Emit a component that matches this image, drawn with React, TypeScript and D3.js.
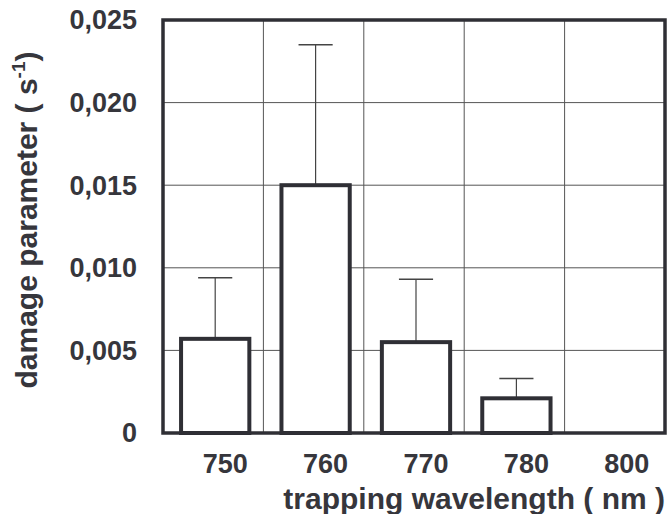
import React from "react";
import * as d3 from "d3";

const categories = ["750", "760", "770", "780", "800"];
const values = [0.0057, 0.015, 0.0055, 0.0021, 0];
const errors = [0.0037, 0.0085, 0.0038, 0.0012, 0];
const yTicks = [0, 0.005, 0.01, 0.015, 0.02, 0.025];
const xTitle = "trapping wavelength ( nm )";

const W = 668;
const H = 514;
const m = { left: 163, right: 3, top: 20, bottom: 81 };

export default function App() {
  const x = d3
    .scaleBand<string>()
    .domain(categories)
    .range([m.left, W - m.right])
    .paddingInner(0)
    .paddingOuter(0);
  const y = d3.scaleLinear().domain([0, 0.025]).range([H - m.bottom, m.top]);
  const locale = d3.formatLocale({ decimal: ",", thousands: ".", grouping: [3], currency: ["", ""] });
  const fmt = (v: number) => (v === 0 ? "0" : locale.format(".3f")(v));
  const bw = x.bandwidth() * 0.68;
  const capW = bw * 0.5;
  const ink = "#2f2f35";
  const txt = "#36363c";
  const font = "'Liberation Sans', Arial, sans-serif";
  const cx = (c: string) => x(c)! + x.bandwidth() / 2 + 2;

  return (
    <svg width={W} height={H} style={{ position: "absolute", left: 0, top: 0, background: "#fff" }}>
      {/* horizontal grid */}
      {yTicks.slice(1, -1).map((t) => (
        <line key={"h" + t} x1={m.left} x2={W - m.right} y1={y(t)} y2={y(t)} stroke="#555" strokeWidth={1} />
      ))}
      {/* vertical grid at band boundaries */}
      {categories.slice(1).map((c) => (
        <line key={"v" + c} x1={x(c)!} x2={x(c)!} y1={m.top} y2={H - m.bottom} stroke="#555" strokeWidth={1} />
      ))}
      {/* error bars */}
      {categories.map((c, i) =>
        errors[i] > 0 ? (
          <g key={"e" + c}>
            <line x1={cx(c)} x2={cx(c)} y1={y(values[i])} y2={y(values[i] + errors[i])} stroke="#444" strokeWidth={1.2} />
            <line
              x1={cx(c) - capW / 2}
              x2={cx(c) + capW / 2}
              y1={y(values[i] + errors[i])}
              y2={y(values[i] + errors[i])}
              stroke="#444"
              strokeWidth={1.5}
            />
          </g>
        ) : null
      )}
      {/* bars */}
      {categories.map((c, i) =>
        values[i] > 0 ? (
          <rect
            key={"b" + c}
            x={cx(c) - bw / 2}
            y={y(values[i])}
            width={bw}
            height={y(0) - y(values[i])}
            fill="#fff"
            stroke={ink}
            strokeWidth={4}
          />
        ) : null
      )}
      {/* frame */}
      <rect
        x={m.left}
        y={m.top}
        width={W - m.right - m.left}
        height={H - m.bottom - m.top}
        fill="none"
        stroke={ink}
        strokeWidth={3.5}
      />
      {/* y tick labels */}
      {yTicks.map((t) => (
        <text
          key={"yl" + t}
          x={137}
          y={y(t)}
          dy="0.35em"
          textAnchor="end"
          fontFamily={font}
          fontWeight="bold"
          fontSize={27}
          fill={txt}
        >
          {fmt(t)}
        </text>
      ))}
      {/* x tick labels */}
      {categories.map((c) => (
        <text
          key={"xl" + c}
          x={cx(c) + 10}
          y={473}
          textAnchor="middle"
          fontFamily={font}
          fontWeight="bold"
          fontSize={27}
          fill={txt}
        >
          {c}
        </text>
      ))}
      {/* x title */}
      <text x={665} y={509} textAnchor="end" fontFamily={font} fontWeight="bold" fontSize={30} fill={txt}>
        {xTitle}
      </text>
      {/* y title */}
      <text
        transform={`translate(37, ${220}) rotate(-90)`}
        textAnchor="middle"
        fontFamily={font}
        fontWeight="bold"
        fontSize={30}
        fill={txt}
      >
        damage parameter ( s
        <tspan fontSize={19} dy={-12}>-1</tspan>
        <tspan dy={12}>)</tspan>
      </text>
    </svg>
  );
}
